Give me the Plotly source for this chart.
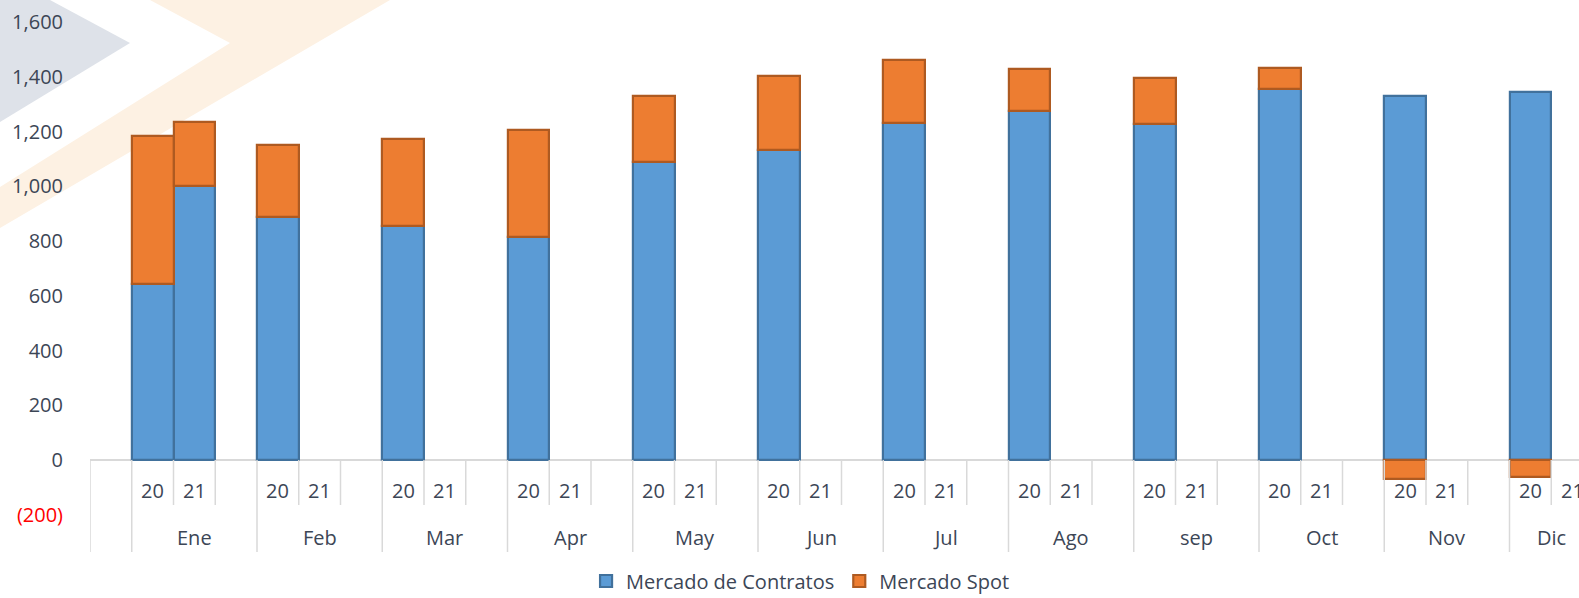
import plotly.graph_objects as go

# ---- data ----
months = ["Ene", "Feb", "Mar", "Apr", "May", "Jun", "Jul", "Ago", "sep", "Oct", "Nov", "Dic"]
years = ["20", "21"]
contratos_20 = [643, 887, 854, 814, 1088, 1132, 1230, 1274, 1227, 1355, 1329, 1344]
spot_20 = [540, 263, 318, 391, 241, 270, 230, 154, 168, 76, -70, -62]
contratos_21 = [1000, None, None, None, None, None, None, None, None, None, None, None]
spot_21 = [234, None, None, None, None, None, None, None, None, None, None, None]
y_ticks = [-200, 0, 200, 400, 600, 800, 1000, 1200, 1400, 1600]

# ---- geometry helpers ----
W, H = 1579, 598
ML, MT, MB = 90, 22, 83
SLOT_PX = 41.75
plot_w = W - ML
plot_h = H - MT - MB


def py(p):
    return (H - MB - p) / plot_h


def px(p):
    return (p - ML) / plot_w


def slot(m, yi):
    return 1 + 3 * m + yi


BLUE, BLUE_LINE = "#5B9BD5", "#41719C"
ORANGE, ORANGE_LINE = "#ED7D31", "#AE5A21"
TXT = "#3C4656"
FONT = "Open Sans"

x20 = [slot(m, 0) for m in range(len(months))]
x21 = [slot(m, 1) for m in range(len(months))]

fig = go.Figure()
fig.add_trace(go.Bar(name="Mercado de Contratos", x=x20 + x21, y=contratos_20 + contratos_21,
                     width=1, marker=dict(color=BLUE, line=dict(color=BLUE_LINE, width=2.2)),
                     legendgroup="c"))
fig.add_trace(go.Bar(name="Mercado Spot", x=x20 + x21, y=spot_20 + spot_21,
                     width=1, marker=dict(color=ORANGE, line=dict(color=ORANGE_LINE, width=2.2)),
                     legendgroup="s"))


def fmt(v):
    if v < 0:
        return '<span style="color:#FF0000">({:,})</span>'.format(-v)
    return "{:,}".format(v)


shapes = []
# watermark chevrons
def poly(pts, color):
    d = "M " + " L ".join("{:.5f},{:.5f}".format(px(a), py(b)) for a, b in pts) + " Z"
    return dict(type="path", xref="paper", yref="paper", path=d, fillcolor=color,
                line=dict(width=0), layer="below")

shapes.append(poly([(0, 0), (50, 0), (130, 43), (0, 122)], "#DEE2E9"))
shapes.append(poly([(150, 0), (390, 0), (0, 228), (0, 187), (230, 43)], "#FDF1E3"))

# category axis separators
n_slots = 3 * len(months) + 1
for b in range(n_slots + 1):
    full = b == 0 or (b - 1) % 3 == 0
    shapes.append(dict(type="line", xref="x", yref="paper", x0=b - 0.5, x1=b - 0.5,
                       y0=py(460), y1=py(552 if full else 505),
                       line=dict(color="#D9D9D9", width=1.5)))

annotations = []
for m, mon in enumerate(months):
    for yi, yr in enumerate(years):
        annotations.append(dict(x=slot(m, yi), y=py(490), xref="x", yref="paper", text=yr,
                                showarrow=False, font=dict(family=FONT, size=20, color=TXT),
                                xanchor="center", yanchor="middle"))
    first = slot(m, 0)
    last = slot(m, len(years)) if m < len(months) - 1 else slot(m, len(years) - 1)
    annotations.append(dict(x=(first + last) / 2, y=py(537), xref="x", yref="paper", text=mon,
                            showarrow=False, font=dict(family=FONT, size=20, color=TXT),
                            xanchor="center", yanchor="middle"))

fig.update_layout(
    width=W, height=H,
    margin=dict(l=ML, r=0, t=MT, b=MB),
    paper_bgcolor="white", plot_bgcolor="rgba(0,0,0,0)",
    barmode="relative", bargap=0,
    font=dict(family=FONT, size=20, color=TXT),
    xaxis=dict(range=[-0.5, -0.5 + plot_w / SLOT_PX], showticklabels=False, showgrid=False,
               zeroline=False, showline=False, ticks="", automargin=False),
    yaxis=dict(range=[-200, 1600], tickvals=y_ticks, ticktext=[fmt(v) for v in y_ticks],
               showgrid=False, zeroline=True, zerolinecolor="#D9D9D9", zerolinewidth=1.5,
               showline=False, ticks="", ticklabelstandoff=26, automargin=False,
               tickfont=dict(family=FONT, size=20, color=TXT)),
    legend=dict(orientation="h", xref="container", yref="container", x=0.507, y=(H - 581) / H,
                xanchor="center", yanchor="middle", font=dict(family=FONT, size=20, color=TXT),
                traceorder="normal", itemwidth=30),
    shapes=shapes, annotations=annotations,
)

fig.write_html("out.html", config={"displayModeBar": False},
               post_script="document.body.style.margin='0';document.body.style.overflow='hidden';")
